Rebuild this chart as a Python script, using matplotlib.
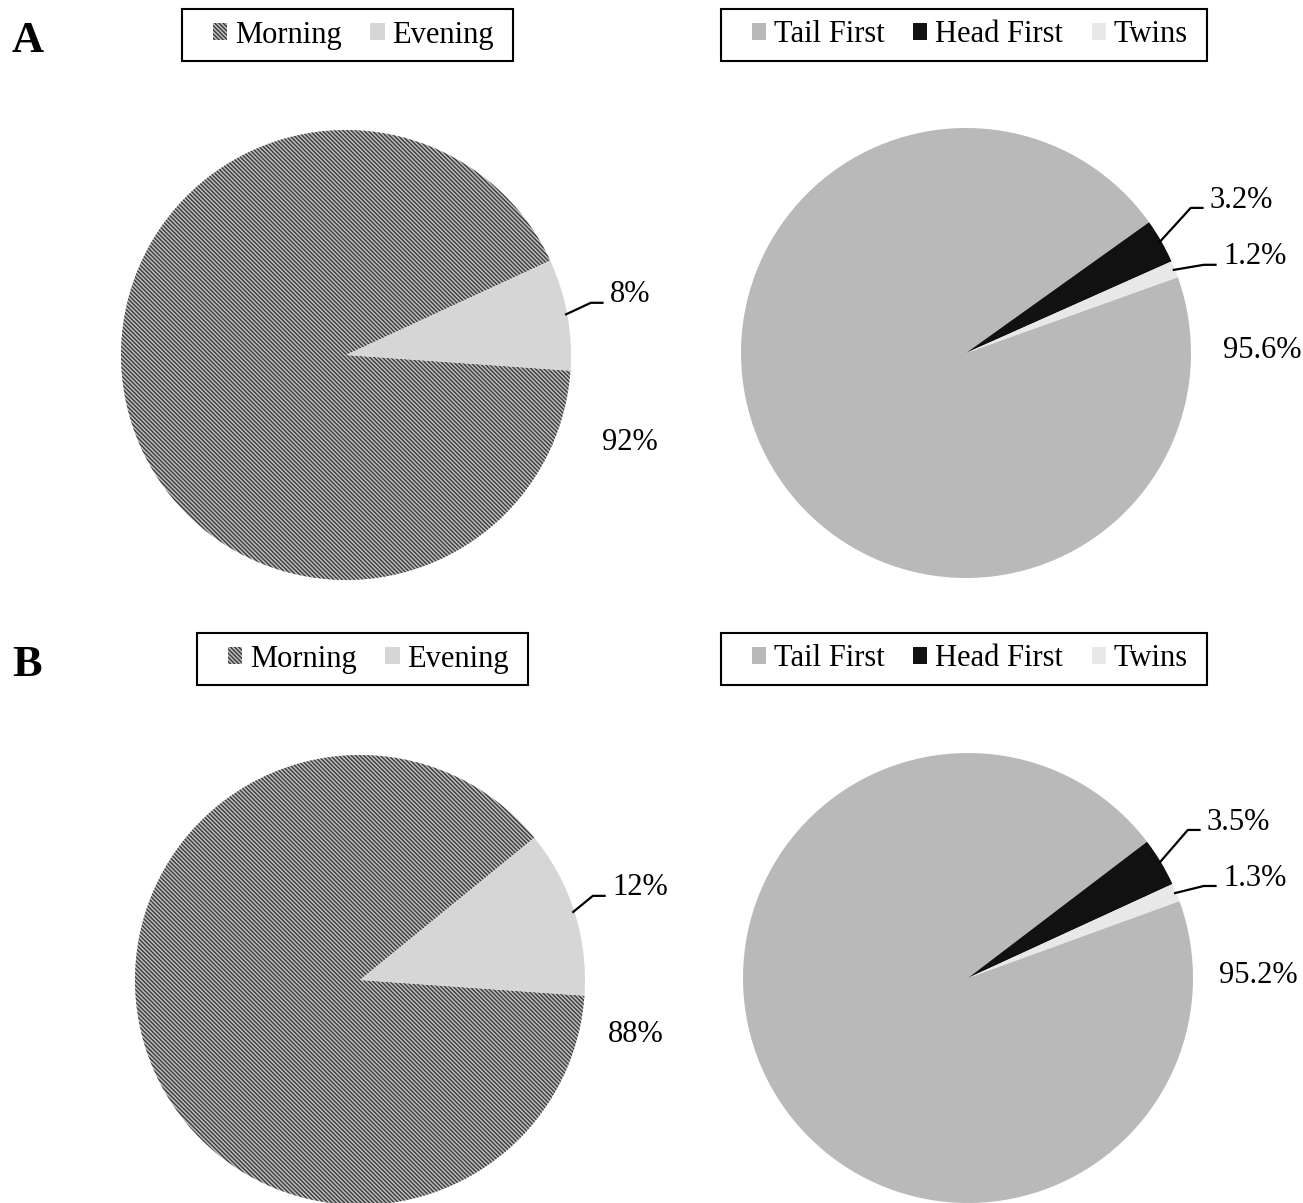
import matplotlib.pyplot as plt
from matplotlib.patches import Rectangle
import numpy as np

plt.rcParams['font.family'] = ['Liberation Serif', 'DejaVu Serif']
plt.rcParams['hatch.linewidth'] = 1.0

# data
time_labels = ['Morning', 'Evening']
time_A = [92, 8]
time_B = [88, 12]
time_text_A = ['92%', '8%']
time_text_B = ['88%', '12%']

pres_labels = ['Tail First', 'Head First', 'Twins']
pres_A = [95.6, 3.2, 1.2]
pres_B = [95.2, 3.5, 1.3]
pres_text_A = ['95.6%', '3.2%', '1.2%']
pres_text_B = ['95.2%', '3.5%', '1.3%']

W, H = 1303, 1203
R = 225  # pie radius in px
FS = 22

fig = plt.figure(figsize=(W / 100, H / 100), dpi=100)
legends = []


def make_ax(cx, cy):
    # cx, cy are pixel coords from top-left
    ax = fig.add_axes([(cx - R) / W, (H - cy - R) / H, 2 * R / W, 2 * R / H])
    ax.axis('off')
    return ax


def fix_limits(ax):
    ax.set_xlim(-1, 1)
    ax.set_ylim(-1, 1)
    ax.set_aspect('equal')


def leader(ax, mid_deg, tx, ty, txt):
    a = np.deg2rad(mid_deg)
    sx, sy = np.cos(a) * 0.99, np.sin(a) * 0.99
    ly = ty - 0.035
    ax.plot([sx, tx - 0.085, tx - 0.028], [sy, ly, ly], color='black',
            lw=1.6, solid_capstyle='butt', clip_on=False)
    ax.text(tx, ty, txt, ha='left', va='center', fontsize=FS)


def add_legend(handles, labels, leg_xy, ncol):
    leg = fig.legend(handles, labels, loc='center left',
                     bbox_to_anchor=(leg_xy[0] / W, 1 - leg_xy[1] / H),
                     ncol=ncol, fontsize=FS, frameon=False,
                     handlelength=0.46, handleheight=0.46, handletextpad=0.25,
                     columnspacing=0.95, borderpad=0, borderaxespad=0)
    legends.append(leg)


def time_pie(cx, cy, vals, texts, small_pos, big_pos, leg_xy):
    ax = make_ax(cx, cy)
    start = -4
    wedges, _ = ax.pie(vals, radius=1, startangle=start, counterclock=False,
                       colors=['#bdbdbd', '#d6d6d6'],
                       wedgeprops=dict(linewidth=0))
    fix_limits(ax)
    wedges[0].set_hatch('\\\\\\\\\\\\\\\\')
    wedges[0].set_edgecolor('#3a3a3a')
    wedges[0].set_linewidth(0)
    mid = start + vals[1] * 3.6 / 2
    leader(ax, mid, small_pos[0], small_pos[1], texts[1])
    ax.text(big_pos[0], big_pos[1], texts[0], ha='center', va='center', fontsize=FS)
    add_legend(wedges, time_labels, leg_xy, 2)
    return ax


def pres_pie(cx, cy, vals, texts, start, pos1, pos2, big_pos, leg_xy):
    ax = make_ax(cx, cy)
    wedges, _ = ax.pie(vals, radius=1, startangle=start, counterclock=False,
                       colors=['#b9b9b9', '#111111', '#e8e8e8'],
                       wedgeprops=dict(linewidth=0))
    fix_limits(ax)
    mid_twins = start + vals[2] * 3.6 / 2
    mid_head = start + vals[2] * 3.6 + vals[1] * 3.6 / 2
    leader(ax, mid_head, pos1[0], pos1[1], texts[1])
    leader(ax, mid_twins, pos2[0], pos2[1], texts[2])
    ax.text(big_pos[0], big_pos[1], texts[0], ha='center', va='center', fontsize=FS)
    add_legend(wedges, pres_labels, leg_xy, 3)
    return ax


time_pie(346, 355, time_A, time_text_A, (1.173, 0.267), (1.262, -0.391), (213, 35))
pres_pie(966, 353, pres_A, pres_text_A, 19.7, (1.084, 0.68), (1.142, 0.427),
         (1.316, 0.013), (752, 35))
time_pie(360, 980, time_B, time_text_B, (1.12, 0.409), (1.227, -0.244), (228, 659))
pres_pie(968, 978, pres_B, pres_text_B, 20.0, (1.062, 0.693), (1.133, 0.444),
         (1.29, 0.013), (752, 659))

for letter, y in [('A', 52), ('B', 676)]:
    fig.text(12 / W, 1 - y / H, letter, fontsize=32, fontweight='bold',
             ha='left', va='baseline')

# Excel-style legend boxes: wider padding on the left than on the right
fig.canvas.draw()
renderer = fig.canvas.get_renderer()
for leg in legends:
    bb = leg.get_window_extent(renderer)
    x0, x1 = bb.x0 - 31, bb.x1 + 19
    yc = (bb.y0 + bb.y1) / 2
    fig.patches.append(Rectangle((x0 / W, (yc - 26) / H), (x1 - x0) / W, 52 / H,
                                 transform=fig.transFigure, fill=False,
                                 edgecolor='black', linewidth=1.5))

fig.savefig('out.png', dpi=100)
